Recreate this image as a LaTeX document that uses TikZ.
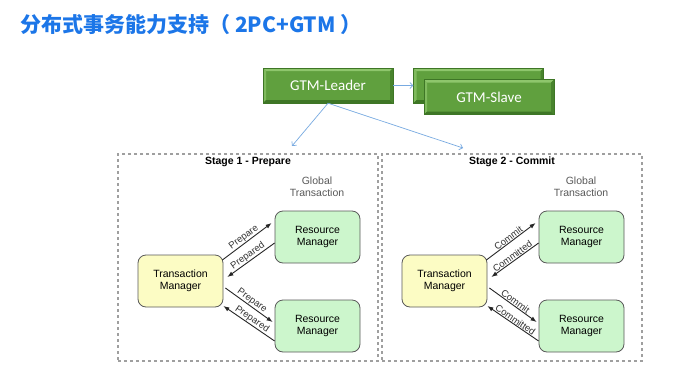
\documentclass[tikz,border=0pt]{standalone}
\usepackage{fontspec}
\setmainfont{Liberation Sans}
\newfontfamily\cjkfont{Noto Sans CJK SC}
\newfontfamily\calibrifont{Carlito}
\usetikzlibrary{calc,arrows.meta}
\definecolor{titleblue}{RGB}{28,118,232}
\definecolor{gtmgreen}{RGB}{96,160,62}
\definecolor{gtmlight}{RGB}{142,198,108}
\definecolor{gtmdark}{RGB}{62,118,38}
\definecolor{linkblue}{RGB}{120,170,225}
\definecolor{tmyellow}{RGB}{252,252,196}
\definecolor{rmgreen}{RGB}{204,246,204}
\definecolor{boxline}{RGB}{90,90,90}
\begin{document}
\begin{tikzpicture}[x=1pt, y=-1pt, >={Latex[length=6pt,width=4.5pt]},
  gtm/.style={minimum width=130pt, minimum height=35pt, inner sep=0pt, fill=gtmgreen, draw=gtmdark, line width=0.4pt,
    text=white, font=\calibrifont\fontsize{15}{18}\selectfont,
    path picture={
      \coordinate (bnw) at (path picture bounding box.north west);
      \coordinate (bne) at (path picture bounding box.north east);
      \coordinate (bse) at (path picture bounding box.south east);
      \coordinate (bsw) at (path picture bounding box.south west);
      \fill[gtmlight] (bnw) -- (bne) -- ([shift={(-3pt,-3pt)}]bne) -- ([shift={(3pt,-3pt)}]bnw) -- cycle;
      \fill[gtmlight!70!gtmgreen] (bnw) -- ([shift={(3pt,-3pt)}]bnw) -- ([shift={(3pt,3pt)}]bsw) -- (bsw) -- cycle;
      \fill[gtmdark] (bsw) -- (bse) -- ([shift={(-3pt,3pt)}]bse) -- ([shift={(3pt,3pt)}]bsw) -- cycle;
      \fill[gtmdark!70!gtmgreen] (bne) -- (bse) -- ([shift={(-3pt,3pt)}]bse) -- ([shift={(-3pt,-3pt)}]bne) -- cycle;
    }},
  link/.style={linkblue, line width=0.7pt, -{Straight Barb[length=3pt,width=6pt]}},
  stagebox/.style={draw=gray!75, dash pattern=on 3pt off 3pt, line width=1.3pt, minimum width=260pt, minimum height=207pt},
  tmbox/.style={draw=boxline, fill=tmyellow, rounded corners=8pt, line width=0.8pt, minimum width=85pt, minimum height=52pt,
    align=center, font=\fontsize{10.5}{12}\selectfont},
  rmbox/.style={tmbox, fill=rmgreen},
  msg/.style={draw=gray!30!black, line width=0.9pt},
  msglabel/.style={midway, sloped, above, inner sep=0.5pt, text=black!80, font=\fontsize{9.5}{11}\selectfont}]

  % 1. canvas and title
  \fill[white] (0,0) rectangle (681,389);
  \useasboundingbox (0,0) rectangle (681,389);
  \node[anchor=west, inner sep=0pt, text=titleblue, font=\cjkfont\bfseries\fontsize{21}{25}\selectfont] (title) at (20,25) {分布式事务能力支持（ 2PC+GTM ）};

  % 2. GTM boxes
  \node[gtm] (leader) at (328,85.5) {GTM-Leader};
  \node[gtm] (slaveback) at (478.5,85.5) {};
  \node[gtm] (slave) at (489,97) {GTM-Slave};

  \coordinate (s1top) at (292,146);
  \coordinate (s2top) at (463,148);
  \draw[link] (leader) -- (slaveback);
  \draw[link] (leader.south) -- (s1top);
  \draw[link] (leader.south) -- (s2top);

  % 3. the two stages
  \foreach \dx/\n/\phase/\req/\ack in {0/1/Prepare/Prepare/Prepared, 264/2/Commit/Commit/Committed} {
    \node[stagebox] (stage\n) at (248+\dx,257.5) {};
    \node[font=\bfseries\fontsize{10.5}{12}\selectfont] (phase\n) at (248+\dx,162) {Stage \n\ - \phase};
    \node[align=center, text=black!65, font=\fontsize{10.5}{12}\selectfont] (glob\n) at (317+\dx,187) {Global\\Transaction};

    \node[tmbox] (tm\n) at (180.5+\dx,281) {Transaction\\Manager};
    \node[rmbox] (rma\n) at (317.5+\dx,237) {Resource\\Manager};
    \node[rmbox] (rmb\n) at (317.5+\dx,326) {Resource\\Manager};

    % messages, labels on the outer side
    \draw[msg, ->] ($(tm\n.east)+(-1,-21)$) -- ($(rma\n.west)+(-3,-14)$) node[msglabel] {\req};
    \draw[msg, <-] ($(tm\n.east)+(4,-4)$) -- ($(rma\n.west)+(0,6)$) node[msglabel] {\ack};
    \draw[msg, ->] ($(tm\n.east)+(2,7)$) -- ($(rmb\n.west)+(-2,-4)$) node[msglabel] {\req};
    \draw[msg, <-] ($(tm\n.east)+(0,25)$) -- ($(rmb\n.west)+(0,15)$) node[msglabel] {\ack};
  }
\end{tikzpicture}
\end{document}
